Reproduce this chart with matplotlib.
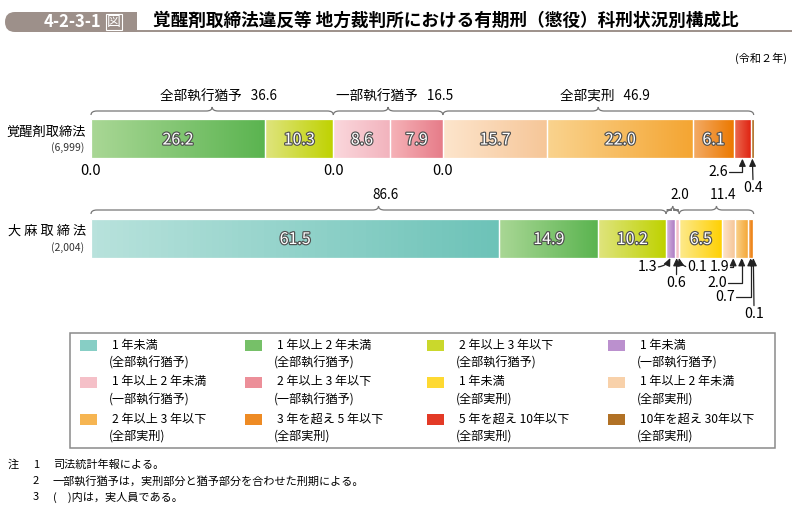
import numpy as np
import matplotlib.pyplot as plt
import matplotlib.patheffects as pe
from matplotlib.path import Path
from matplotlib.patches import PathPatch, Rectangle, FancyBboxPatch
from matplotlib.colors import LinearSegmentedColormap, to_rgb

plt.rcParams['font.family'] = ['Noto Sans CJK JP', 'DejaVu Sans']

W, H = 792, 508

# ---- data -------------------------------------------------------------
categories = ['1 年未満\n(全部執行猶予)', '1 年以上 2 年未満\n(全部執行猶予)', '2 年以上 3 年以下\n(全部執行猶予)',
              '1 年未満\n(一部執行猶予)', '1 年以上 2 年未満\n(一部執行猶予)', '2 年以上 3 年以下\n(一部執行猶予)',
              '1 年未満\n(全部実刑)', '1 年以上 2 年未満\n(全部実刑)', '2 年以上 3 年以下\n(全部実刑)',
              '3 年を超え 5 年以下\n(全部実刑)', '5 年を超え 10年以下\n(全部実刑)', '10年を超え 30年以下\n(全部実刑)']
row_names = ['覚醒剤取締法', '大 麻 取 締 法']
row_counts = ['(6,999)', '(2,004)']
stimulants = [0.0, 26.2, 10.3, 0.0, 8.6, 7.9, 0.0, 15.7, 22.0, 6.1, 2.6, 0.4]
cannabis = [61.5, 14.9, 10.2, 1.3, 0.6, 0.1, 6.5, 1.9, 2.0, 0.7, 0.1, 0.0]
group_names = ['全部執行猶予', '一部執行猶予', '全部実刑']
stimulants_groups = [36.6, 16.5, 46.9]
cannabis_groups = [86.6, 2.0, 11.4]

# gradient colours (light -> dark) per category
grads = [('#b8e2dc', '#6dc3b8'), ('#a9d795', '#5bb450'), ('#dfe47e', '#bfd200'),
         ('#d6b8e0', '#ad7bc4'), ('#fbd8dd', '#f2b3bd'), ('#f6b3b8', '#e67c89'),
         ('#fdea8e', '#ffd000'), ('#fde5cc', '#f6c698'), ('#fad38e', '#f4a532'),
         ('#f3ab66', '#ec7900'), ('#eb6c52', '#df1f0e'), ('#c98b3c', '#a46318')]

fig = plt.figure(figsize=(W / 100, H / 100), dpi=100)
bg = fig.add_axes([0, 0, 1, 1])
bg.set_xlim(0, W); bg.set_ylim(H, 0); bg.axis('off')

# ---- title ------------------------------------------------------------
box_c = '#9d908a'
bg.add_patch(FancyBboxPatch((5, 12), 132, 20, boxstyle='round,pad=0,rounding_size=10', fc=box_c, ec='none'))
bg.add_patch(Rectangle((60, 12), 77, 20, fc=box_c, ec='none'))
bg.plot([137, W], [31.3, 31.3], color=box_c, lw=1.4)
bg.text(72, 22, '4-2-3-1', color='white', fontsize=12, fontweight='bold', ha='center', va='center')
bg.text(114, 22, '図', color='white', fontsize=10, ha='center', va='center',
        bbox=dict(boxstyle='square,pad=0.08', fc='none', ec='white', lw=0.8))
bg.text(153, 21, '覚醒剤取締法違反等 地方裁判所における有期刑（懲役）科刑状況別構成比',
        fontsize=12.7, fontweight='bold', ha='left', va='center')
bg.text(787, 58, '(令和２年)', fontsize=8, ha='right', va='center')

# ---- bars -------------------------------------------------------------
ax = fig.add_axes([91 / W, 1 - 330 / H, 664 / W, 245 / H])
ax.set_xlim(0, 100); ax.set_ylim(330, 85); ax.axis('off')

rows = [stimulants, cannabis]
row_y = [139, 238.5]
bar_h = 39
outline = [pe.withStroke(linewidth=1.7, foreground='#505050')]
grad_img = np.linspace(0, 1, 64).reshape(1, -1)

for vals, y in zip(rows, row_y):
    lefts = np.concatenate([[0], np.cumsum(vals)[:-1]])
    for i, (v, l) in enumerate(zip(vals, lefts)):
        if v <= 0:
            continue
        bar = ax.barh(y, v, left=l, height=bar_h, color=grads[i][1], lw=0)[0]
        cm = LinearSegmentedColormap.from_list('g%d' % i, grads[i])
        im = ax.imshow(grad_img, cmap=cm, aspect='auto', extent=(l, l + v, y + bar_h / 2, y - bar_h / 2), zorder=2)
        im.set_clip_path(bar)
        ax.barh(y, v, left=l, height=bar_h, fill=False, edgecolor='white', lw=0.9, zorder=3)
        if v >= 5:
            ax.text(l + v / 2, y + 1, f'{v:.1f}', color='white', fontsize=11.5, ha='center', va='center',
                    zorder=4, path_effects=outline)
ax.set_xlim(0, 100); ax.set_ylim(330, 85)

# row labels
for name, cnt, y in zip(row_names, row_counts, row_y):
    bg.text(86, y - 7, name, fontsize=9.5, ha='right', va='center')
    bg.text(84, y + 9, cnt, fontsize=7.5, ha='right', va='center', color='#333333')


# ---- braces -----------------------------------------------------------
def brace(x0, x1, y, label):
    d = 0.9
    xm = (x0 + x1) / 2
    verts = [(x0, y + 4), (x0, y), (x0 + d, y), (xm - d, y), (xm, y), (xm, y - 4),
             (xm, y), (xm + d, y), (x1 - d, y), (x1, y), (x1, y + 4)]
    codes = [Path.MOVETO, Path.CURVE3, Path.CURVE3, Path.LINETO, Path.CURVE3, Path.CURVE3,
             Path.CURVE3, Path.CURVE3, Path.LINETO, Path.CURVE3, Path.CURVE3]
    ax.add_patch(PathPatch(Path(verts, codes), fc='none', ec='#777777', lw=0.9, clip_on=False))
    ax.text(xm + 1, y - 15, label, fontsize=9.8, ha='center', va='center')


group_idx = [(0, 3), (3, 6), (6, 12)]
for vals, totals, y, names in [(stimulants, stimulants_groups, 111, group_names),
                               (cannabis, cannabis_groups, 210, None)]:
    cum = np.concatenate([[0], np.cumsum(vals)])
    for k, (a, b) in enumerate(group_idx):
        lab = f'{totals[k]:.1f}' if names is None else f'{names[k]}   {totals[k]:.1f}'
        brace(cum[a], cum[b], y, lab)

# zero labels under the stimulant bar
cum1 = np.concatenate([[0], np.cumsum(stimulants)])
for i, v in enumerate(stimulants):
    if v == 0:
        ax.text(cum1[i], 171, f'{v:.1f}', fontsize=10.5, ha='center', va='center')

# ---- small-value callouts ----------------------------------------------
arr = dict(arrowstyle='-|>,head_length=0.45,head_width=0.2', color='#222222', lw=0.9,
           mutation_scale=10, shrinkA=1, shrinkB=0, patchA=None)
bot1 = row_y[0] + bar_h / 2
bot2 = row_y[1] + bar_h / 2


def callout(vals, i, bot, tx, ty, ha, conn, relpos, at=0.5):
    xseg = sum(vals[:i]) + vals[i] * at
    ax.annotate(f'{vals[i]:.1f}', xy=(xseg, bot), xytext=(tx, ty),
                fontsize=10.2, ha=ha, va='center', annotation_clip=False,
                arrowprops=dict(arr, connectionstyle=conn, relpos=relpos))


px = lambda x: (x - 91) / 6.64
elbow = 'angle,angleA=0,angleB=90,rad=0'
callout(stimulants, 10, bot1, px(728), 172, 'right', elbow, (1, 0.5))
callout(stimulants, 11, bot1, px(753), 188, 'center', 'arc3', (0.5, 1))
callout(cannabis, 3, bot2, px(657), 267, 'right', 'arc3,rad=0.3', (1, 0.5))
callout(cannabis, 4, bot2, px(676.5), 283, 'center', 'arc3', (0.5, 1))
callout(cannabis, 5, bot2, px(687), 267, 'left', 'arc3,rad=-0.3', (0, 0.5))
callout(cannabis, 7, bot2, px(729), 267, 'right', elbow, (1, 0.5), at=0.85)
callout(cannabis, 8, bot2, px(727), 283, 'right', elbow, (1, 0.5))
callout(cannabis, 9, bot2, px(735), 297, 'right', elbow, (1, 0.5))
callout(cannabis, 10, bot2, px(754), 314, 'center', 'arc3', (0.5, 1))

# ---- legend -----------------------------------------------------------
bg.add_patch(Rectangle((70, 333), 705, 115, fc='none', ec='#8a8a8a', lw=1.1))
col_x = [80, 245, 427, 608]
row_ty = [345, 382, 419]
for k, lab in enumerate(categories):
    r, c = divmod(k, 4)
    c0, c1 = np.array(to_rgb(grads[k][0])), np.array(to_rgb(grads[k][1]))
    bg.add_patch(Rectangle((col_x[c], row_ty[r] - 5.5), 17, 11, fc=0.35 * c0 + 0.65 * c1, ec='none'))
    l1, l2 = lab.split('\n')
    bg.text(col_x[c] + 32, row_ty[r], l1, fontsize=8.7, ha='left', va='center')
    bg.text(col_x[c] + 29, row_ty[r] + 17.5, l2, fontsize=8.7, ha='left', va='center')

# ---- notes ------------------------------------------------------------
notes = ['司法統計年報による。', '一部執行猶予は，実刑部分と猶予部分を合わせた刑期による。', '(　)内は，実人員である。']
bg.text(8, 465, '注', fontsize=8, va='center')
for n, t in enumerate(notes):
    bg.text(33, 465 + 16 * n, str(n + 1), fontsize=8, va='center')
    bg.text(53, 465 + 16 * n, t, fontsize=8, va='center')

fig.savefig('out.png', dpi=100)
